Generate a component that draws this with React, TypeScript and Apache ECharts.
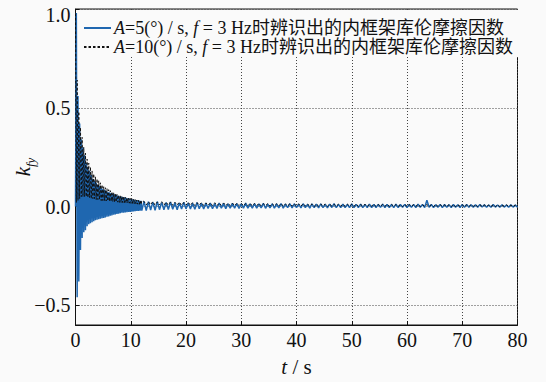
import React, { useEffect, useRef } from "react";
import * as echarts from "echarts";

// time step of the first (dense) part and the second part of each record
const earlyStep = 0.15; // s, from t = 0 to 12 s
const lateStart = 12.4; // s
const lateStep = 0.4; // s, up to 80 s

const blueEarly = [
  0.0, 0.98, -0.46, 0.56, -0.38, 0.42, -0.22, 0.34, -0.16, 0.3,
  -0.13, 0.26, -0.12, 0.22, -0.1, 0.2, -0.09, 0.18, -0.085, 0.16,
  -0.08, 0.14, -0.075, 0.13, -0.07, 0.12, -0.067, 0.11, -0.064, 0.105,
  -0.062, 0.095, -0.06, 0.09, -0.058, 0.085, -0.055, 0.08, -0.052, 0.075,
  -0.05, 0.072, -0.047, 0.068, -0.045, 0.065, -0.042, 0.062, -0.04, 0.058,
  -0.038, 0.055, -0.036, 0.052, -0.034, 0.05, -0.032, 0.048, -0.031, 0.046,
  -0.03, 0.044, -0.029, 0.042, -0.028, 0.04, -0.027, 0.038, -0.026, 0.036,
  -0.025, 0.034, -0.024, 0.032, -0.023, 0.031, -0.022, 0.03, -0.021, 0.029,
  -0.021,
];
const blueLate = [
  0.026, -0.02, 0.024, -0.018, 0.022, -0.019, 0.025, -0.016, 0.021, -0.017,
  0.02, -0.015, 0.023, -0.014, 0.019, -0.016, 0.018, -0.013, 0.021, -0.012,
  0.018, -0.012, 0.017, -0.014, 0.02, -0.011, 0.016, -0.012, 0.018, -0.01,
  0.017, -0.011, 0.015, -0.01, 0.018, -0.009, 0.016, -0.011, 0.014, -0.009,
  0.016, -0.008, 0.015, -0.01, 0.014, -0.008, 0.017, -0.009, 0.013, -0.008,
  0.015, -0.008, 0.013, -0.007, 0.016, -0.009, 0.012, -0.007, 0.014, -0.008,
  0.013, -0.007, 0.015, -0.008, 0.012, -0.006, 0.014, -0.007, 0.013, -0.006,
  0.012, -0.007, 0.014, -0.006, 0.011, -0.008, 0.013, -0.006, 0.012, -0.007,
  0.013, -0.006, 0.011, -0.007, 0.012, -0.005, 0.014, -0.006, 0.011, -0.006,
  0.012, -0.006, 0.01, -0.005, 0.013, -0.006, 0.011, -0.005, 0.012, -0.006,
  0.011, -0.005, 0.012, -0.006, 0.01, -0.005, 0.011, -0.004, 0.012, -0.005,
  0.01, -0.005, 0.011, -0.006, 0.012, -0.005, 0.01, -0.004, 0.011, -0.005,
  0.01, -0.004, 0.011, -0.005, 0.012, -0.004, 0.01, -0.005, 0.032, -0.004,
  0.01, -0.005, 0.009, -0.004, 0.011, -0.005, 0.01, -0.004, 0.009, -0.005,
  0.01, -0.004, 0.009, -0.005, 0.01, -0.004, 0.011, -0.004, 0.009, -0.004,
  0.009, -0.004, 0.01, -0.003, 0.009, -0.004, 0.008, -0.004, 0.01, -0.003,
  0.008, -0.004, 0.009, -0.003, 0.008, -0.004, 0.009, -0.003, 0.008, -0.003,
];

const blackEarly = [
  1.0, 0.02, 0.64, 0.03, 0.48, 0.04, 0.4, 0.05, 0.35, 0.05,
  0.3, 0.05, 0.27, 0.05, 0.24, 0.045, 0.22, 0.045, 0.2, 0.04,
  0.18, 0.04, 0.165, 0.04, 0.15, 0.035, 0.14, 0.035, 0.13, 0.035,
  0.12, 0.03, 0.11, 0.03, 0.1, 0.03, 0.095, 0.028, 0.09, 0.028,
  0.085, 0.026, 0.08, 0.026, 0.075, 0.025, 0.07, 0.024, 0.066, 0.023,
  0.062, 0.022, 0.058, 0.021, 0.055, 0.02, 0.052, 0.02, 0.05, 0.019,
  0.047, 0.018, 0.045, 0.018, 0.043, 0.017, 0.041, 0.016, 0.039, 0.015,
  0.037, 0.014, 0.035, 0.013, 0.033, 0.012, 0.031, 0.011, 0.03, 0.01,
  0.029,
];
const blackLate = [
  0.026, 0.008, 0.024, 0.009, 0.025, 0.007, 0.023, 0.008, 0.024, 0.007,
  0.022, 0.007, 0.023, 0.006, 0.021, 0.008, 0.022, 0.006, 0.02, 0.007,
  0.021, 0.006, 0.02, 0.005, 0.019, 0.007, 0.02, 0.005, 0.018, 0.006,
  0.018, 0.005, 0.019, 0.004, 0.017, 0.006, 0.018, 0.004, 0.016, 0.005,
  0.017, 0.004, 0.016, 0.005, 0.017, 0.003, 0.015, 0.004, 0.016, 0.003,
  0.015, 0.004, 0.016, 0.003, 0.014, 0.004, 0.015, 0.002, 0.014, 0.003,
  0.014, 0.003, 0.015, 0.002, 0.013, 0.003, 0.014, 0.002, 0.013, 0.003,
  0.013, 0.002, 0.014, 0.003, 0.012, 0.002, 0.013, 0.001, 0.012, 0.002,
  0.012, 0.002, 0.013, 0.001, 0.012, 0.002, 0.011, 0.001, 0.012, 0.002,
  0.011, 0.001, 0.012, 0.002, 0.011, 0.001, 0.012, 0.001, 0.01, 0.002,
  0.011, 0.001, 0.01, 0.002, 0.011, 0.0, 0.01, 0.001, 0.011, 0.001,
  0.01, 0.001, 0.011, 0.0, 0.01, 0.001, 0.009, 0.0, 0.01, 0.001,
  0.01, 0.0, 0.009, 0.001, 0.01, 0.0, 0.009, 0.001, 0.01, 0.0,
  0.009, 0.0, 0.01, 0.001, 0.009, 0.0, 0.008, 0.001, 0.009, 0.0,
  0.009, 0.0, 0.008, 0.001, 0.009, 0.0, 0.008, 0.0, 0.009, 0.001,
  0.008, 0.0, 0.009, 0.0, 0.008, 0.001, 0.007, 0.0, 0.008, 0.0,
  0.008, 0.0, 0.007, 0.001, 0.008, 0.0, 0.007, 0.0, 0.007, 0.0,
];

const yTicks = [-0.5, 0, 0.5, 1.0];
const seriesNames = ["A5", "A10"];
const legendLabels: Record<string, string> = {
  A5: "{i|A}=5(°) / s, {i|f} = 3 Hz时辨识出的内框架库伦摩擦因数",
  A10: "{i|A}=10(°) / s, {i|f} = 3 Hz时辨识出的内框架库伦摩擦因数",
};

function toPairs(early: number[], late: number[]) {
  const a = early.map((v, i) => [+(i * earlyStep).toFixed(3), v]);
  const b = late.map((v, i) => [+(lateStart + i * lateStep).toFixed(3), v]);
  return [...a, ...b];
}

const FONT = "Liberation Serif, Noto Sans CJK SC, serif";
const SERIF = "Liberation Serif, serif";

export default function App() {
  const ref = useRef<HTMLDivElement>(null);
  useEffect(() => {
    if (!ref.current) return;
    const chart = echarts.init(ref.current, undefined, { renderer: "svg" });
    const gridLine = { show: true, lineStyle: { color: "#444", width: 1, type: [1, 2] as any } };
    const labelStyle = { fontFamily: SERIF, fontSize: 20, color: "#111" };
    chart.setOption({
      animation: false,
      backgroundColor: "#fafafa",
      textStyle: { fontFamily: SERIF },
      grid: {
        left: 75.5,
        right: 28.5,
        top: 9,
        bottom: 57,
        outerBoundsMode: "none",
        containLabel: false,
        show: true,
        borderColor: "#111",
        borderWidth: 1,
        backgroundColor: "transparent",
      },
      legend: {
        left: 80,
        top: 10,
        orient: "vertical",
        data: seriesNames,
        itemWidth: 27,
        itemHeight: 2,
        itemGap: 1,
        padding: [9, 6, 1, 3],
        backgroundColor: "#fafafa",
        itemStyle: { opacity: 0 },
        formatter: (n: string) => legendLabels[n],
        textStyle: {
          fontFamily: FONT,
          fontSize: 18,
          lineHeight: 18,
          color: "#111",
          padding: [0, 0, 0, -2],
          rich: {
            i: { fontFamily: SERIF, fontSize: 18, lineHeight: 18, fontStyle: "italic", color: "#111" },
          },
        },
      },
      xAxis: {
        type: "value",
        min: 0,
        max: 80,
        interval: 10,
        name: "{i|t}{n| / s}",
        nameLocation: "middle",
        nameGap: 31,
        nameMoveOverlap: false,
        nameTextStyle: {
          fontFamily: SERIF,
          fontSize: 21,
          color: "#111",
          rich: {
            i: { fontFamily: SERIF, fontSize: 21, fontStyle: "italic", color: "#111" },
            n: { fontFamily: SERIF, fontSize: 21, color: "#111" },
          },
        },
        axisLine: { show: true, onZero: false, lineStyle: { color: "#111", width: 1 } },
        axisTick: { show: true, inside: true, length: 4, lineStyle: { color: "#111" } },
        axisLabel: { ...labelStyle, margin: 5 },
        splitLine: gridLine,
      },
      yAxis: {
        type: "value",
        min: -0.6,
        max: 1.0,
        name: "{k|k}{s|fy}",
        nameLocation: "middle",
        nameGap: 42,
        nameMoveOverlap: false,
        nameRotate: 90,
        nameTextStyle: {
          fontFamily: SERIF,
          rich: {
            k: { fontFamily: SERIF, fontSize: 21, fontStyle: "italic", color: "#111" },
            s: {
              fontFamily: SERIF,
              fontSize: 13,
              fontStyle: "italic",
              color: "#111",
              verticalAlign: "bottom",
              padding: [0, 0, -3, 0],
            },
          },
        },
        axisLine: { show: true, onZero: false, lineStyle: { color: "#111", width: 1 } },
        axisTick: { show: true, inside: true, length: 4, customValues: yTicks, lineStyle: { color: "#111" } },
        axisLabel: {
          ...labelStyle,
          margin: 5,
          customValues: yTicks,
          formatter: (v: number) => {
            const s = v.toFixed(1).replace("-", "−");
            return v >= 1 ? "{top|" + s + "}" : "{n|" + s + "}";
          },
          rich: {
            n: { ...labelStyle },
            top: { ...labelStyle, padding: [11, 0, 0, 0] },
          },
        },
        splitLine: gridLine,
      },
      series: [
        {
          name: "A5",
          type: "line",
          data: toPairs(blueEarly, blueLate),
          showSymbol: false,
          symbol: "none",
          lineStyle: { color: "#1f67b0", width: 1.5 },
          itemStyle: { color: "#5b8ec6" },
          z: 2,
        },
        {
          name: "A10",
          type: "line",
          data: toPairs(blackEarly, blackLate),
          showSymbol: false,
          symbol: "none",
          lineStyle: { color: "#111", width: 1, type: [2.5, 2] },
          itemStyle: { color: "#111" },
          z: 3,
        },
      ],
    });
    return () => chart.dispose();
  }, []);
  return (
    <div
      ref={ref}
      style={{ position: "fixed", left: 0, top: 0, width: 546, height: 382 }}
    />
  );
}
